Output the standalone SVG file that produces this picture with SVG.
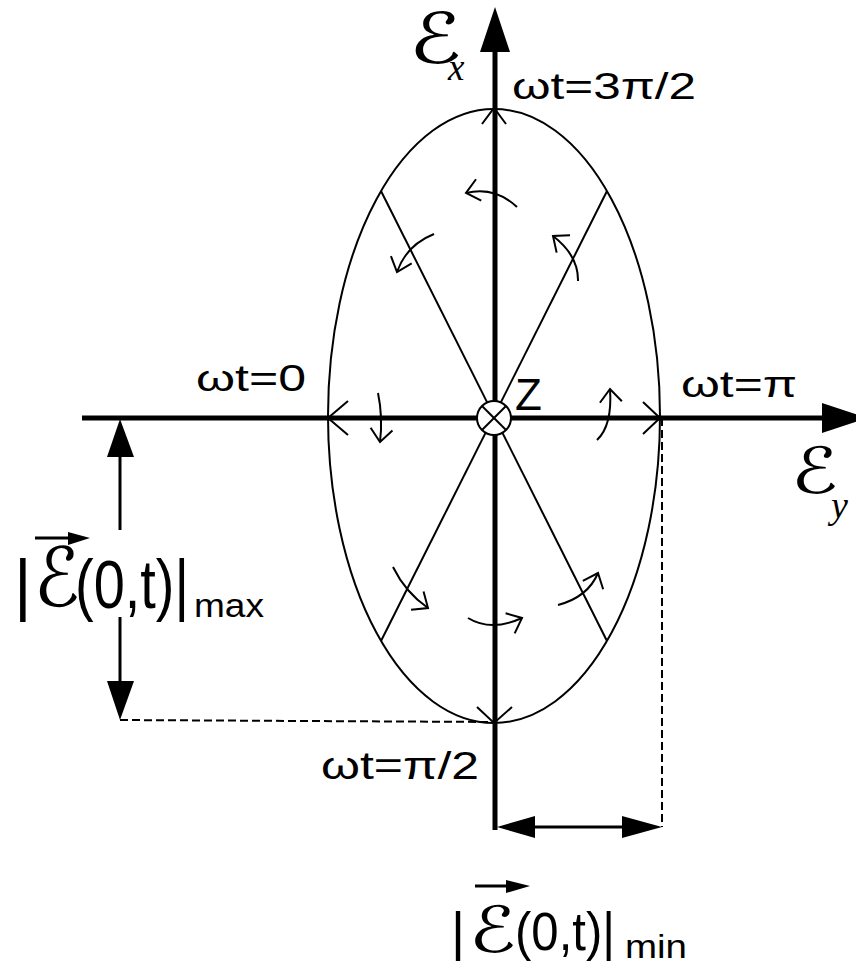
<svg xmlns="http://www.w3.org/2000/svg" width="856" height="963" viewBox="0 0 856 963">
<defs>
<style>
.ax{stroke:#000;stroke-width:5;fill:none}
.thin{stroke:#000;stroke-width:2;fill:none}
.dim{stroke:#000;stroke-width:3;fill:none}
.dash{stroke:#000;stroke-width:2;stroke-dasharray:8 4;fill:none}
.head{fill:#000;stroke:none}
.cw{stroke:#000;stroke-width:2;fill:none;marker-end:url(#chev)}
.lbl{font-family:"Liberation Sans",Arial,sans-serif;fill:#000}
.scr{font-family:"DejaVu Serif","DejaVu Sans",serif;fill:#000}
.mi{font-family:"Liberation Serif","Times New Roman",serif;font-style:italic;fill:#000}
</style>
<marker id="chev" markerUnits="userSpaceOnUse" orient="auto" markerWidth="40" markerHeight="40" viewBox="-20 -20 40 40" refX="0" refY="0" overflow="visible">
<path d="M-13,-11 L0,0 L-13,11" fill="none" stroke="#000" stroke-width="2"/>
</marker>
</defs>
<rect width="856" height="963" fill="#fff"/>

<g id="ellipse">
<ellipse cx="494" cy="416" rx="166" ry="307" class="thin"/>
<line x1="381" y1="191" x2="607" y2="641" class="thin"/>
<line x1="607" y1="191" x2="381" y2="641" class="thin"/>
</g>

<g id="axes">
<line x1="82" y1="418" x2="826" y2="418" class="ax"/>
<polygon points="822,403 867,418 822,433" class="head"/>
<line x1="495" y1="48" x2="495" y2="830" class="ax"/>
<polygon points="480,52 495,7 510,52" class="head"/>
</g>

<g id="origin">
<circle cx="494" cy="418" r="17" fill="#fff" stroke="#000" stroke-width="2"/>
<line x1="482" y1="406" x2="506" y2="430" class="thin"/>
<line x1="506" y1="406" x2="482" y2="430" class="thin"/>
</g>

<g id="connectors">
<polyline points="482,124 494,108 506,124" class="thin"/>
<polyline points="477,707 494,723 512,707" class="thin"/>
<polyline points="348,401 328,418 348,435" class="thin"/>
<polyline points="643,402 660,418 643,434" class="thin"/>
<path d="M517,207 Q494.5,186 466,193" class="cw"/>
<path d="M434,234 Q406.5,245 397,272" class="cw"/>
<path d="M578,281 Q578.5,255.5 553,236" class="cw"/>
<path d="M378,393 Q383,417 380,442" class="cw"/>
<path d="M597,440 Q612.5,425.5 610,389" class="cw"/>
<path d="M393,567 Q405.5,592.5 428,608" class="cw"/>
<path d="M468,618 Q491,632 522,618" class="cw"/>
<path d="M558,605 Q588,597 598,573" class="cw"/>
</g>

<g id="dimensions">
<line x1="120" y1="720" x2="494" y2="722" class="dash"/>
<line x1="662" y1="418" x2="662" y2="827" class="dash"/>
<line x1="120" y1="455" x2="120" y2="530" class="dim"/>
<line x1="120" y1="617" x2="120" y2="682" class="dim"/>
<polygon points="107,457 120,419 134,457" class="head"/>
<polygon points="107,681 120,720 134,681" class="head"/>
<line x1="530" y1="827" x2="625" y2="827" class="dim"/>
<polygon points="535,816 497,827 535,838" class="head"/>
<polygon points="622,816 662,827 622,838" class="head"/>
</g>

<g id="labels">
<text class="scr" x="409" y="63" font-size="70" textLength="53" lengthAdjust="spacingAndGlyphs">ℰ</text>
<text class="mi" x="448" y="80" font-size="37">x</text>
<text class="scr" x="791" y="493" font-size="64" textLength="47" lengthAdjust="spacingAndGlyphs">ℰ</text>
<text class="mi" x="831" y="518" font-size="38">y</text>
<text class="lbl" x="512" y="99" font-size="37" textLength="184" lengthAdjust="spacingAndGlyphs">ωt=3π/2</text>
<text class="lbl" x="196" y="391" font-size="37" textLength="110" lengthAdjust="spacingAndGlyphs">ωt=0</text>
<text class="lbl" x="681" y="397" font-size="37" textLength="116" lengthAdjust="spacingAndGlyphs">ωt=π</text>
<text class="lbl" x="321" y="779" font-size="38" textLength="158" lengthAdjust="spacingAndGlyphs">ωt=π/2</text>
<text class="lbl" x="515" y="410" font-size="44">Z</text>

<text class="lbl" x="14" y="608" font-size="68">|</text>
<text class="scr" x="34" y="606" font-size="82" textLength="46" lengthAdjust="spacingAndGlyphs">ℰ</text>
<line x1="35" y1="538" x2="78" y2="538" stroke="#000" stroke-width="3"/>
<polygon points="68,532 90,538 68,545" class="head"/>
<text class="lbl" x="75" y="608" font-size="68" textLength="114" lengthAdjust="spacingAndGlyphs">(0,t)|</text>
<text class="lbl" x="194" y="617" font-size="34" textLength="70" lengthAdjust="spacingAndGlyphs">max</text>

<text class="lbl" x="451" y="950" font-size="54">|</text>
<text class="scr" x="469" y="952" font-size="64" textLength="47" lengthAdjust="spacingAndGlyphs">ℰ</text>
<line x1="475" y1="886" x2="518" y2="886" stroke="#000" stroke-width="3"/>
<polygon points="506,880 530,886 506,893" class="head"/>
<text class="lbl" x="515" y="950" font-size="54" textLength="100" lengthAdjust="spacingAndGlyphs">(0,t)|</text>
<text class="lbl" x="625" y="958" font-size="34" textLength="62" lengthAdjust="spacingAndGlyphs">min</text>
</g>
</svg>
